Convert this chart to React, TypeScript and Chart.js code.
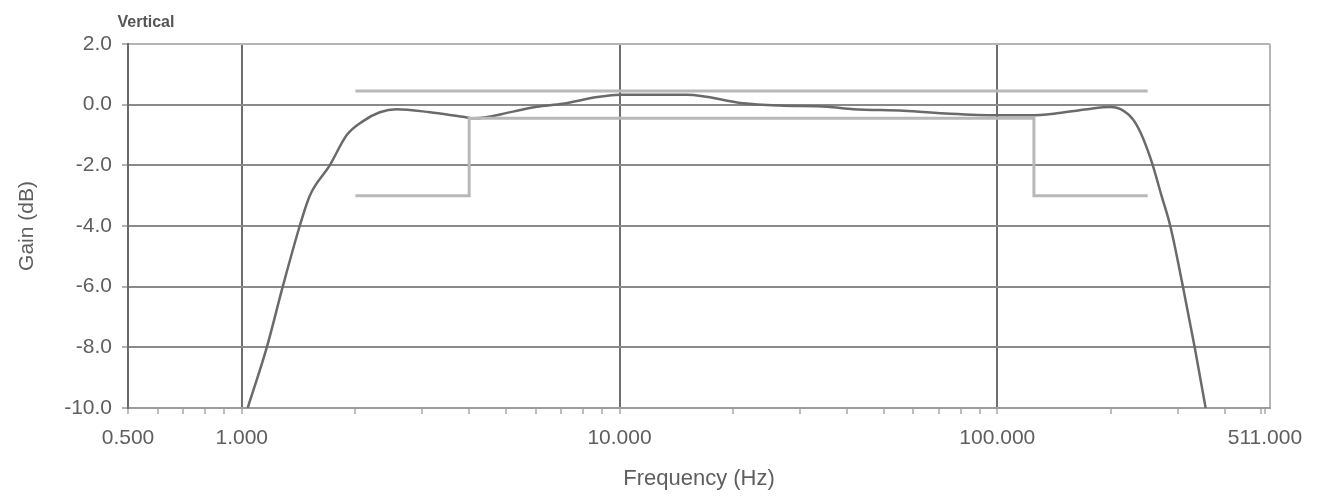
import React, { useEffect, useRef } from "react";
import { Chart, registerables } from "chart.js";

Chart.register(...registerables);

// ---- data ----
const gainFreq = [1.037, 1.165, 1.284, 1.424, 1.514, 1.71, 1.897, 2.09, 2.32, 2.57, 3.15, 3.85, 4.14, 5.22, 6.04, 7.08, 8.72, 10, 15.1, 21.2, 26.6, 35.5, 41.6, 56.4, 75, 100, 122, 141, 173, 199, 212, 229, 240, 250, 258, 272, 287, 310, 333, 356];
const gainDb = [-10, -8, -6, -4, -3, -2, -1, -0.55, -0.25, -0.15, -0.25, -0.4, -0.45, -0.23, -0.07, 0.03, 0.25, 0.33, 0.33, 0.05, -0.03, -0.07, -0.15, -0.2, -0.3, -0.35, -0.35, -0.3, -0.15, -0.08, -0.15, -0.5, -0.95, -1.5, -2.0, -3.0, -4.0, -6.0, -8.0, -10];

const maskUpperFreq = [2, 250];
const maskUpperDb = [0.45, 0.45];

const maskLowerFreq = [2, 4, 4, 125, 125, 250];
const maskLowerDb = [-3, -3, -0.45, -0.45, -3, -3];

const xMin = 0.5;
const xMax = 527;
const xTickValues = [0.5, 0.6, 0.7, 0.8, 0.9, 1, 2, 3, 4, 5, 6, 7, 8, 9, 10, 20, 30, 40, 50, 60, 70, 80, 90, 100, 200, 300, 400, 500, 511, 527];
const xLabelValues = [0.5, 1, 10, 100, 511];
const xGridValues = [1, 10, 100];

const yMin = -10;
const yMax = 2;
const yStep = 2;

const xTitle = "Frequency (Hz)";
const yTitle = "Gain (dB)";
const cornerLabel = "Vertical";

const toPoints = (xs: number[], ys: number[]) => xs.map((x, i) => ({ x, y: ys[i] }));

const FONT = "'Liberation Sans', Arial, sans-serif";
const TEXT = "#5e5e5e";

export default function App() {
  const canvasRef = useRef<HTMLCanvasElement | null>(null);

  useEffect(() => {
    if (!canvasRef.current) return;

    const cornerPlugin = {
      id: "cornerLabel",
      afterDraw(chart: any) {
        const { ctx, chartArea } = chart;
        ctx.save();
        ctx.font = `bold 16px ${FONT}`;
        ctx.fillStyle = "#555";
        ctx.textAlign = "center";
        ctx.textBaseline = "middle";
        ctx.fillText(cornerLabel, chartArea.left + 18, 23);
        ctx.restore();
      },
    };

    const chart = new Chart(canvasRef.current, {
      type: "line",
      data: {
        datasets: [
          {
            data: toPoints(maskUpperFreq, maskUpperDb),
            borderColor: "#b8b8b8",
            borderWidth: 3,
            pointRadius: 0,
            tension: 0,
          },
          {
            data: toPoints(maskLowerFreq, maskLowerDb),
            borderColor: "#b8b8b8",
            borderWidth: 3,
            pointRadius: 0,
            tension: 0,
          },
          {
            data: toPoints(gainFreq, gainDb),
            borderColor: "#6a6a6a",
            borderWidth: 2.5,
            pointRadius: 0,
            cubicInterpolationMode: "monotone",
          },
        ],
      },
      options: {
        animation: false,
        responsive: true,
        maintainAspectRatio: false,
        layout: { padding: { left: 15, top: 44, right: 63, bottom: 0 } },
        plugins: {
          legend: { display: false },
          tooltip: { enabled: false },
        },
        scales: {
          x: {
            type: "logarithmic",
            min: xMin,
            max: xMax,
            afterBuildTicks: (scale: any) => {
              scale.ticks = xTickValues.map((v) => ({ value: v, major: xGridValues.includes(v) }));
            },
            afterFit: (scale: any) => {
              scale.height = 91;
            },
            ticks: {
              autoSkip: false,
              maxRotation: 0,
              minRotation: 0,
              padding: 12,
              color: TEXT,
              font: { family: FONT, size: 21 },
              callback: (value: any) => {
                const v = Number(value);
                return xLabelValues.includes(v) ? v.toFixed(3) : "";
              },
            },
            grid: {
              color: (ctx: any) => {
                const v = ctx.tick ? ctx.tick.value : null;
                if (v === xMax) return "#b5b5b5";
                if (xGridValues.includes(v)) return "#6e6e6e";
                return "rgba(0,0,0,0)";
              },
              lineWidth: 2,
              tickLength: 6,
              tickColor: (ctx: any) => (ctx.tick && ctx.tick.value === xMax ? "rgba(0,0,0,0)" : "#a8a8a8"),
              tickWidth: 1.5,
            },
            border: { color: "#9c9c9c", width: 2 },
            title: {
              display: true,
              text: xTitle,
              color: TEXT,
              font: { family: FONT, size: 22 },
              padding: { top: 0, bottom: 7 },
            },
          },
          y: {
            type: "linear",
            min: yMin,
            max: yMax,
            afterFit: (scale: any) => {
              scale.width = 113;
            },
            ticks: {
              stepSize: yStep,
              padding: 10,
              color: TEXT,
              font: { family: FONT, size: 21 },
              callback: (value: any) => Number(value).toFixed(1),
            },
            grid: {
              color: (ctx: any) => (ctx.tick && ctx.tick.value === yMax ? "#b5b5b5" : "#8a8a8a"),
              lineWidth: 2,
              tickLength: 6,
              tickColor: "#9a9a9a",
              tickWidth: 1.5,
            },
            border: { color: "#6a6a6a", width: 2 },
            title: {
              display: true,
              text: yTitle,
              color: TEXT,
              font: { family: FONT, size: 21 },
              padding: { top: 0, bottom: 0 },
            },
          },
        },
      },
      plugins: [cornerPlugin],
    } as any);

    return () => chart.destroy();
  }, []);

  return (
    <div style={{ position: "absolute", left: 0, top: 0, width: 1333, height: 499, background: "#fff" }}>
      <canvas ref={canvasRef} />
    </div>
  );
}
